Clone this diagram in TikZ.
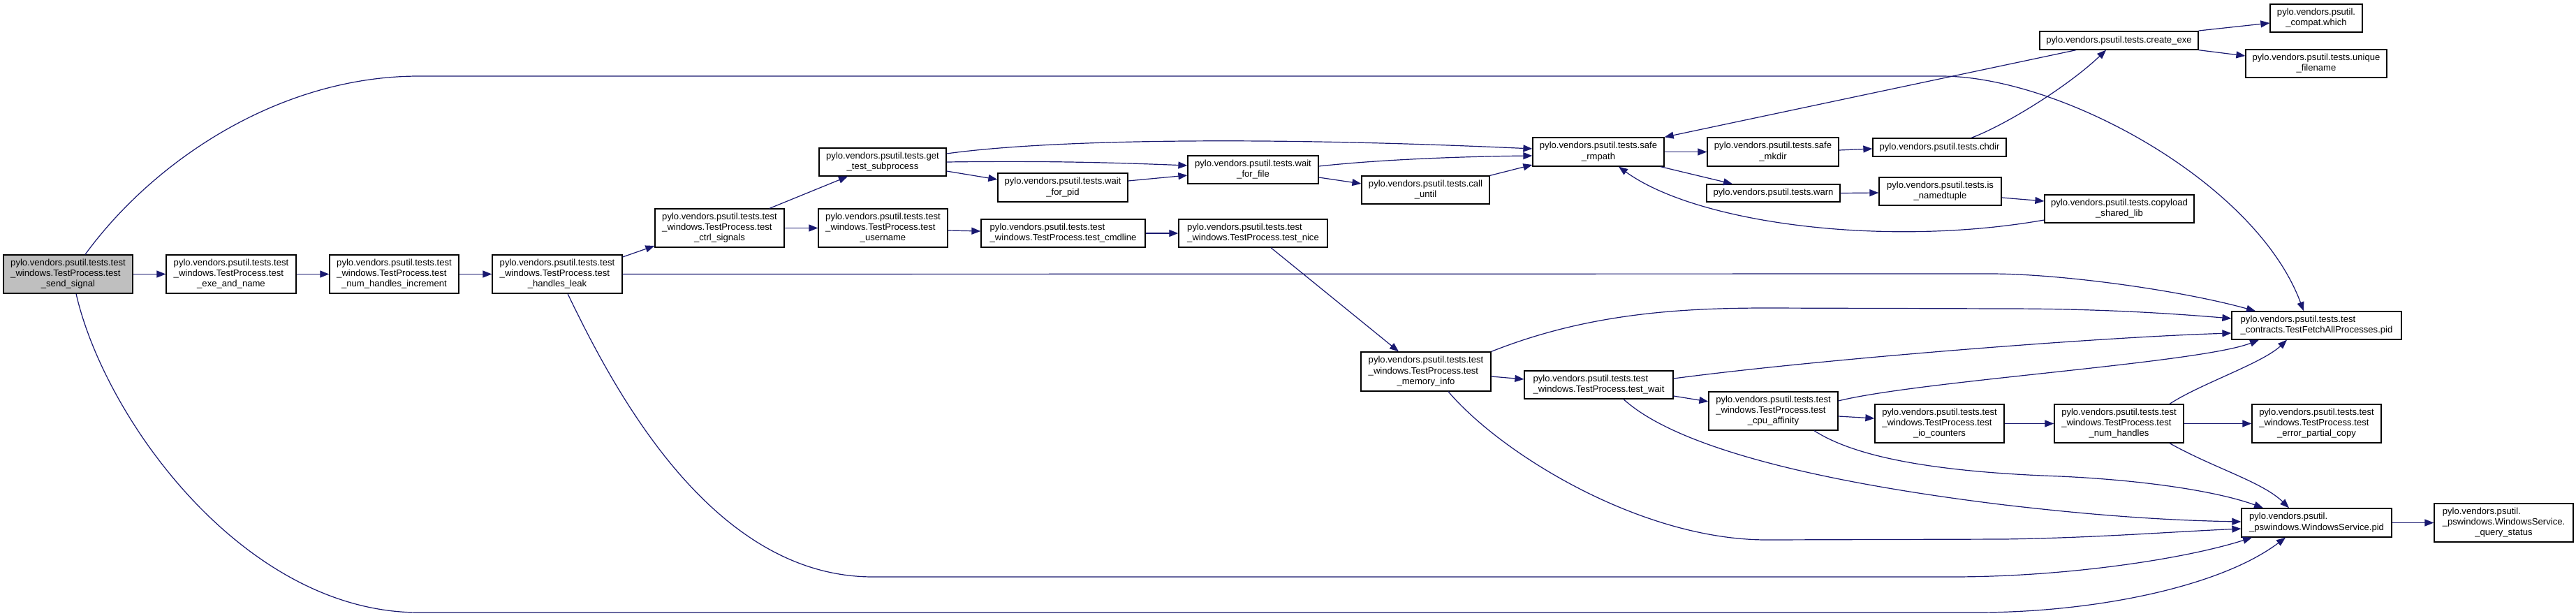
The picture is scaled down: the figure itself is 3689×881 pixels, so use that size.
\documentclass[tikz,border=0pt]{standalone}
\usepackage{fontspec}
\setmainfont{Liberation Sans}
\usetikzlibrary{arrows.meta}
\definecolor{edgeblue}{HTML}{191970}
\definecolor{rootgray}{HTML}{BFBFBF}
\newcommand{\lthree}[3]{\begin{tabular}{@{}l@{}}#1\\#2\\\multicolumn{1}{@{}c@{}}{#3}\end{tabular}}
\newcommand{\ltwo}[2]{\begin{tabular}{@{}l@{}}#1\\\multicolumn{1}{@{}c@{}}{#2}\end{tabular}}
\newcommand{\pt}{pylo.vendors.psutil.tests.test}
\newcommand{\wt}{\_windows.TestProcess.test}
\tikzset{
  box/.style={draw=black, line width=1.3pt, fill=white, inner sep=0pt,
    font=\fontsize{13.1}{15.2}\selectfont},
  edge/.style={draw=edgeblue, line width=1.2pt, -{Triangle[length=13pt,width=10pt]}},
}
\begin{document}
\begin{tikzpicture}[x=1pt,y=-1pt]
\useasboundingbox[fill=white] (0,0) rectangle (3689,881);
% nodes
\node[box, fill=rootgray, minimum width=185, minimum height=55] (n1) at (97.5,392.5) {\lthree{\pt}{\wt}{\_send\_signal}};
\node[box, minimum width=186, minimum height=55] (n2) at (331,392.5) {\lthree{\pt}{\wt}{\_exe\_and\_name}};
\node[box, minimum width=185, minimum height=55] (n3) at (564.5,392.5) {\lthree{\pt}{\wt}{\_num\_handles\_increment}};
\node[box, minimum width=186, minimum height=55] (n4) at (798,392.5) {\lthree{\pt}{\wt}{\_handles\_leak}};
\node[box, minimum width=185, minimum height=55] (n5) at (1030.5,326.5) {\lthree{\pt}{\wt}{\_ctrl\_signals}};
\node[box, minimum width=182, minimum height=40] (n6) at (1264,232) {\ltwo{pylo.vendors.psutil.tests.get}{\_test\_subprocess}};
\node[box, minimum width=186, minimum height=41] (n7) at (1522,268.5) {\ltwo{pylo.vendors.psutil.tests.wait}{\_for\_pid}};
\node[box, minimum width=187, minimum height=40] (n8) at (1794.5,243) {\ltwo{pylo.vendors.psutil.tests.wait}{\_for\_file}};
\node[box, minimum width=183, minimum height=40] (n9) at (2041.5,272) {\ltwo{pylo.vendors.psutil.tests.call}{\_until}};
\node[box, minimum width=185, minimum height=55] (n10) at (1264.5,326.5) {\lthree{\pt}{\wt}{\_username}};
\node[box, minimum width=235, minimum height=40] (n11) at (1522.5,334) {\ltwo{\pt}{\wt\_cmdline}};
\node[box, minimum width=213, minimum height=40] (n12) at (1794.5,334) {\ltwo{\pt}{\wt\_nice}};
\node[box, minimum width=188, minimum height=41] (n13) at (2289,217.5) {\ltwo{pylo.vendors.psutil.tests.safe}{\_rmpath}};
\node[box, minimum width=188, minimum height=41] (n14) at (2539,217.5) {\ltwo{pylo.vendors.psutil.tests.safe}{\_mkdir}};
\node[box, minimum width=191, minimum height=26] (n15) at (2777.5,211) {pylo.vendors.psutil.tests.chdir};
\node[box, minimum width=191, minimum height=25] (n16) at (2539.5,276.5) {pylo.vendors.psutil.tests.warn};
\node[box, minimum width=175, minimum height=40] (n17) at (2778.5,274) {\ltwo{pylo.vendors.psutil.tests.is}{\_namedtuple}};
\node[box, minimum width=214, minimum height=40] (n18) at (3035,299) {\ltwo{pylo.vendors.psutil.tests.copyload}{\_shared\_lib}};
\node[box, minimum width=227, minimum height=26] (n19) at (3034.5,58) {pylo.vendors.psutil.tests.create\_exe};
\node[box, minimum width=132, minimum height=40] (n20) at (3317,26) {\ltwo{pylo.vendors.psutil.}{\_compat.which}};
\node[box, minimum width=202, minimum height=40] (n21) at (3317,91) {\ltwo{pylo.vendors.psutil.tests.unique}{\_filename}};
\node[box, minimum width=186, minimum height=56] (n22) at (2042,532) {\lthree{\pt}{\wt}{\_memory\_info}};
\node[box, minimum width=213, minimum height=40] (n23) at (2289.5,551) {\ltwo{\pt}{\wt\_wait}};
\node[box, minimum width=185, minimum height=55] (n24) at (2539.5,588.5) {\lthree{\pt}{\wt}{\_cpu\_affinity}};
\node[box, minimum width=185, minimum height=55] (n25) at (2777.5,606.5) {\lthree{\pt}{\wt}{\_io\_counters}};
\node[box, minimum width=243, minimum height=40] (n26) at (3317.5,466) {\ltwo{\pt}{\_contracts.TestFetchAllProcesses.pid}};
\node[box, minimum width=185, minimum height=55] (n27) at (3034.5,606.5) {\lthree{\pt}{\wt}{\_num\_handles}};
\node[box, minimum width=185, minimum height=55] (n28) at (3317.5,606.5) {\lthree{\pt}{\wt}{\_error\_partial\_copy}};
\node[box, minimum width=215, minimum height=41] (n29) at (3317.5,748.5) {\ltwo{pylo.vendors.psutil.}{\_pswindows.WindowsService.pid}};
\node[box, minimum width=199, minimum height=55] (n30) at (3585.5,748.5) {\lthree{pylo.vendors.psutil.}{\_pswindows.WindowsService.}{\_query\_status}};
% edges
\draw[edge] (n1.east) -- (n2.west);
\draw[edge] (n2.east) -- (n3.west);
\draw[edge] (n3.east) -- (n4.west);
\draw[edge] (n4.east |- 0,368) -- (n5.west |- 0,352);
\draw[edge] (n4.east) -- (2850,392) .. controls (2950,392) and (3120,415) .. (3230,0 |- n26.north);
\draw[edge] (813,0 |- n4.south) .. controls (880,560) and (1020,826) .. (1250,826) -- (2795,826) .. controls (2960,826) and (3130,800) .. (3225,0 |- n29.south);
\draw[edge] (122,0 |- n1.north) .. controls (220,230) and (400,109) .. (600,109) -- (2780,109) .. controls (2950,109) and (3230,260) .. (3299,0 |- n26.north);
\draw[edge] (109,0 |- n1.south) .. controls (150,600) and (350,877) .. (600,877) -- (2830,877) .. controls (3000,877) and (3180,840) .. (3273,0 |- n29.south);
\draw[edge] (1102,0 |- n5.north) -- (1214,0 |- n6.south);
\draw[edge] (n5.east) -- (n10.west);
\draw[edge] (n10.east |- 0,330) -- (n11.west |- 0,331);
\draw[edge] (n11.east) -- (n12.west);
\draw[edge] (1820,0 |- n12.south) -- (2003,0 |- n22.north);
\draw[edge] (n6.east |- 0,220) .. controls (1500,200) and (1800,195) .. (n13.west |- 0,213);
\draw[edge] (n6.east |- 0,232) .. controls (1500,230) and (1600,233) .. (n8.west |- 0,237);
\draw[edge] (n6.east |- 0,245) -- (n7.west |- 0,257);
\draw[edge] (n7.east |- 0,259) -- (n8.west |- 0,251);
\draw[edge] (n8.east |- 0,238) .. controls (1980,228) and (2100,224) .. (n13.west |- 0,223);
\draw[edge] (n8.east |- 0,254) -- (n9.west |- 0,263);
\draw[edge] (n9.north east) -- (n13.west |- 0,236);
\draw[edge] (n13.east) -- (n14.west);
\draw[edge] (2378,0 |- n13.south) -- (2481,0 |- n16.north);
\draw[edge] (n14.east |- 0,215) -- (n15.west |- 0,213);
\draw[edge] (2823,0 |- n15.north) .. controls (2870,180) and (2960,125) .. (3016,0 |- n19.south);
\draw[edge] (2973,0 |- n19.south) -- (n13.north east);
\draw[edge] (n19.east |- 0,44) -- (n20.west |- 0,33);
\draw[edge] (n19.south east) -- (n21.west |- 0,80);
\draw[edge] (n16.east) -- (n17.west |- 0,276);
\draw[edge] (n17.east |- 0,283) -- (n18.west |- 0,288);
\draw[edge] (n18.west |- 0,315) .. controls (2700,355) and (2430,320) .. (2318,0 |- n13.south);
\draw[edge] (n22.east |- 0,539) -- (n23.west |- 0,543);
\draw[edge] (n22.north east) .. controls (2270,450) and (2400,441) .. (2530,441) -- (2870,442) .. controls (3000,442) and (3100,448) .. (n26.west |- 0,456);
\draw[edge] (2074,0 |- n22.south) .. controls (2150,650) and (2350,773) .. (2530,773) -- (2870,772) .. controls (3000,770) and (3100,762) .. (n29.west |- 0,757);
\draw[edge] (n23.east |- 0,567) -- (n24.west |- 0,575);
\draw[edge] (n23.east |- 0,542) .. controls (2600,515) and (3000,483) .. (n26.west |- 0,477);
\draw[edge] (2325,0 |- n23.south) .. controls (2400,640) and (2600,690) .. (2871,723) .. controls (3000,738) and (3100,745) .. (n29.west |- 0,747);
\draw[edge] (n24.east |- 0,596) -- (n25.west |- 0,599);
\draw[edge] (n24.east |- 0,574) .. controls (2750,545) and (3150,520) .. (3235,0 |- n26.south);
\draw[edge] (2598,0 |- n24.south) .. controls (2650,650) and (2750,675) .. (2950,682) .. controls (3080,688) and (3180,705) .. (3241,0 |- n29.north);
\draw[edge] (n25.east) -- (n27.west);
\draw[edge] (n27.east) -- (n28.west);
\draw[edge] (3107,0 |- n27.north) .. controls (3150,550) and (3240,520) .. (3275,0 |- n26.south);
\draw[edge] (3107,0 |- n27.south) .. controls (3170,670) and (3240,690) .. (3278,0 |- n29.north);
\draw[edge] (n29.east) -- (n30.west);
\end{tikzpicture}
\end{document}
